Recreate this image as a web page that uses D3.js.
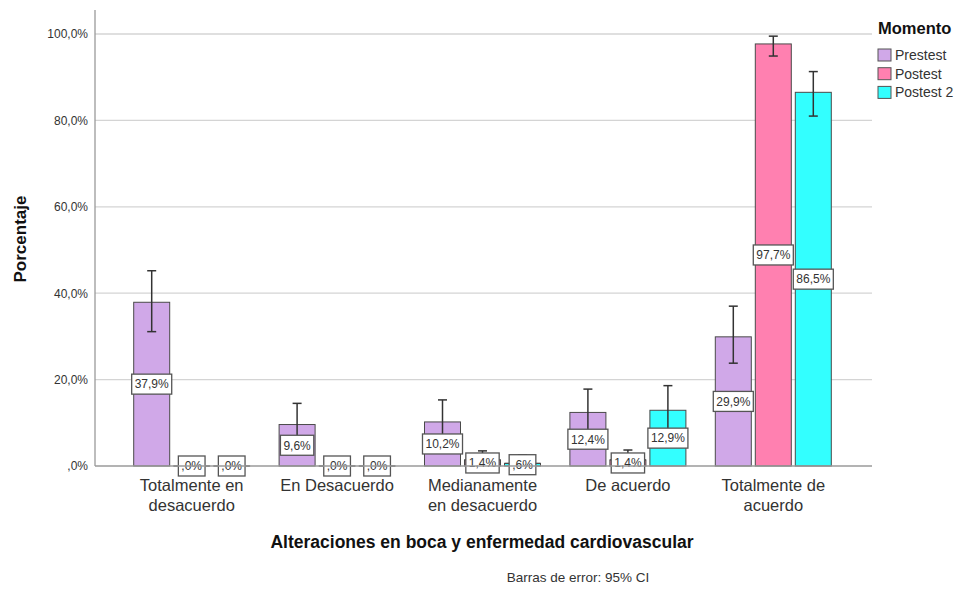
<!DOCTYPE html>
<html>
<head>
<meta charset="utf-8">
<script src="https://cdn.jsdelivr.net/npm/d3@7"></script>
<style>
  html, body { margin: 0; padding: 0; background: #fff; }
  svg { display: block; font-family: "Liberation Sans", Arial, sans-serif; }
</style>
</head>
<body>
<svg id="chart" width="963" height="590"></svg>
<script>
// Categories (x axis) and series (legend)
const categories = [
  ["Totalmente en", "desacuerdo"],
  ["En Desacuerdo"],
  ["Medianamente", "en desacuerdo"],
  ["De acuerdo"],
  ["Totalmente de", "acuerdo"]
];
const seriesNames = ["Prestest", "Postest", "Postest 2"];
const seriesColors = ["#d0a8e8", "#ff80b0", "#33ffff"];

// Percentages per series, in category order
const prestest = [37.9, 9.6, 10.2, 12.4, 29.9];
const postest  = [0, 0, 1.4, 1.4, 97.7];
const postest2 = [0, 0, 0.6, 12.9, 86.5];

// 95% CI bounds per series
const prestestLow  = [31.1, 5.6, 6.0, 8.2, 23.8];
const prestestHigh = [45.2, 14.5, 15.3, 17.8, 37.0];
const postestLow   = [0, 0, 0, 0, 94.9];
const postestHigh  = [0, 0, 3.5, 3.7, 99.5];
const postest2Low  = [0, 0, 0, 7.2, 81.0];
const postest2High = [0, 0, 2.6, 18.6, 91.3];

const yTicks = [0, 20, 40, 60, 80, 100];
const yTickLabels = [",0%", "20,0%", "40,0%", "60,0%", "80,0%", "100,0%"];

const values = [prestest, postest, postest2];
const lows = [prestestLow, postestLow, postest2Low];
const highs = [prestestHigh, postestHigh, postest2High];

const svg = d3.select("#chart");

const plot = { left: 95, right: 872, top: 10, bottom: 466 };

const y = d3.scaleLinear().domain([0, 100]).range([466, 34]);
const x0 = d3.scaleBand().domain(d3.range(categories.length)).range([119, 846]);
const x1 = d3.scaleBand().domain(d3.range(seriesNames.length)).range([14.7, 130.7]).paddingInner(0.1).paddingOuter(0);

// Gridlines
svg.append("g").selectAll("line").data(yTicks.filter(d => d > 0)).join("line")
  .attr("x1", plot.left).attr("x2", plot.right)
  .attr("y1", d => y(d)).attr("y2", d => y(d))
  .attr("stroke", "#d4d4d4").attr("stroke-width", 1.3);

// Y axis
const yAxis = svg.append("g").attr("transform", `translate(${plot.left},0)`)
  .call(d3.axisLeft(y).tickValues(yTicks).tickSize(0).tickPadding(7)
    .tickFormat((d, i) => yTickLabels[i]));
yAxis.select(".domain").remove();
yAxis.selectAll("text").attr("font-size", 12).attr("fill", "#333")
  .attr("font-family", "Liberation Sans, Arial, sans-serif");

svg.append("line").attr("x1", plot.left).attr("x2", plot.left)
  .attr("y1", plot.top).attr("y2", plot.bottom)
  .attr("stroke", "#9a9a9a").attr("stroke-width", 1.3);

// Bars
const fmt = v => {
  const s = v.toFixed(1).replace(".", ",");
  return (s.startsWith("0,") ? s.slice(1) : s) + "%";
};

const groups = svg.append("g").selectAll("g").data(categories).join("g")
  .attr("transform", (d, i) => `translate(${x0(i)},0)`);

groups.each(function (cat, ci) {
  const g = d3.select(this);
  seriesNames.forEach((name, si) => {
    const v = values[si][ci];
    g.append("rect")
      .attr("x", x1(si)).attr("width", x1.bandwidth())
      .attr("y", y(v)).attr("height", Math.max(0.01, y(0) - y(v)))
      .attr("fill", seriesColors[si]).attr("stroke", "#4a4a4a").attr("stroke-width", 1);
  });
});

// X axis baseline
svg.append("line").attr("x1", plot.left).attr("x2", plot.right)
  .attr("y1", y(0)).attr("y2", y(0))
  .attr("stroke", "#9a9a9a").attr("stroke-width", 1.3);

// Near-zero bars drawn as a line along the baseline
groups.each(function (cat, ci) {
  const g = d3.select(this);
  seriesNames.forEach((name, si) => {
    const v = values[si][ci];
    if (v < 2) {
      g.append("line")
        .attr("x1", x1(si)).attr("x2", x1(si) + x1.bandwidth())
        .attr("y1", y(v)).attr("y2", y(v))
        .attr("stroke", "#4a4a4a").attr("stroke-width", 1.2);
    }
  });
});

// Error bars
groups.each(function (cat, ci) {
  const g = d3.select(this);
  seriesNames.forEach((name, si) => {
    const lo = lows[si][ci], hi = highs[si][ci];
    if (hi <= 0) return;
    const cx = x1(si) + x1.bandwidth() / 2;
    const eb = g.append("g").attr("stroke", "#333").attr("stroke-width", 1.5);
    eb.append("line").attr("x1", cx).attr("x2", cx).attr("y1", y(lo)).attr("y2", y(hi));
    eb.append("line").attr("x1", cx - 4.5).attr("x2", cx + 4.5).attr("y1", y(hi)).attr("y2", y(hi));
    eb.append("line").attr("x1", cx - 4.5).attr("x2", cx + 4.5).attr("y1", y(lo)).attr("y2", y(lo));
  });
});

// Value labels at mid-height of each bar
groups.each(function (cat, ci) {
  const g = d3.select(this);
  seriesNames.forEach((name, si) => {
    const v = values[si][ci];
    const cx = x1(si) + x1.bandwidth() / 2;
    const cy = y(v / 2);
    const lg = g.append("g").attr("transform", `translate(${cx},${cy})`);
    const t = lg.append("text").text(fmt(v))
      .attr("text-anchor", "middle").attr("dy", "0.36em")
      .attr("font-size", 12).attr("fill", "#333");
    const w = t.node().getComputedTextLength() + 6;
    lg.insert("rect", "text")
      .attr("x", -w / 2).attr("y", -10).attr("width", w).attr("height", 20)
      .attr("fill", "#fff").attr("stroke", "#555").attr("stroke-width", 1.3);
  });
});

// X tick labels
groups.append("text")
  .attr("x", x0.bandwidth() / 2).attr("y", 491)
  .attr("text-anchor", "middle").attr("font-size", 16.5).attr("fill", "#333")
  .selectAll("tspan").data(d => d).join("tspan")
  .attr("x", x0.bandwidth() / 2).attr("dy", (d, i) => i === 0 ? 0 : 20)
  .text(d => d);

// Axis titles
svg.append("text")
  .attr("transform", "translate(26,239) rotate(-90)")
  .attr("text-anchor", "middle").attr("font-size", 17).attr("font-weight", "bold").attr("fill", "#111")
  .text("Porcentaje");

svg.append("text")
  .attr("x", 482).attr("y", 548)
  .attr("text-anchor", "middle").attr("font-size", 17.5).attr("font-weight", "bold").attr("fill", "#111")
  .text("Alteraciones en boca y enfermedad cardiovascular");

svg.append("text")
  .attr("x", 578).attr("y", 582)
  .attr("text-anchor", "middle").attr("font-size", 13.5).attr("fill", "#333")
  .text("Barras de error: 95% CI");

// Legend
const legend = svg.append("g").attr("transform", "translate(878,0)");
legend.append("text").attr("x", 0).attr("y", 34)
  .attr("font-size", 16.5).attr("font-weight", "bold").attr("fill", "#111")
  .text("Momento");
const items = legend.selectAll("g.item").data(seriesNames).join("g").attr("class", "item")
  .attr("transform", (d, i) => `translate(0,${49 + i * 18.7})`);
items.append("rect").attr("width", 13).attr("height", 12)
  .attr("fill", (d, i) => seriesColors[i]).attr("stroke", "#555").attr("stroke-width", 1);
items.append("text").attr("x", 17).attr("y", 11)
  .attr("font-size", 14).attr("fill", "#333").text(d => d);
</script>
</body>
</html>
